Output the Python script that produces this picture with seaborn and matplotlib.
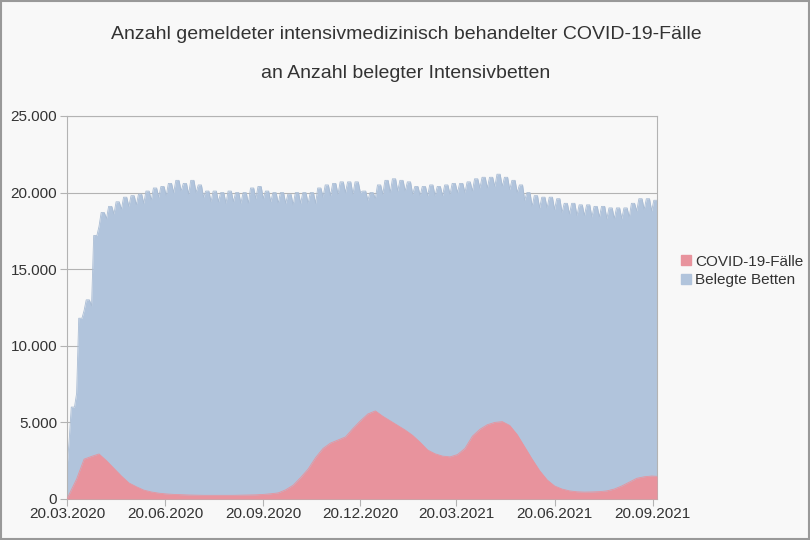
import numpy as np
import pandas as pd
import matplotlib
matplotlib.use("Agg")
import matplotlib.pyplot as plt
import matplotlib.dates as mdates
from matplotlib.ticker import FuncFormatter, MultipleLocator
from matplotlib.lines import Line2D
from matplotlib.patches import Rectangle
import seaborn as sns

# ---------------- data ----------------
start_date = "2020-03-20"
end_date = "2021-09-24"
first_sunday = "2020-03-22"
n_weeks = 79

beds_start = 2000
# weekday level (Tue-Fri) of each week
beds_weekday = [
    6000, 11800, 13000, 17200, 18700, 19100, 19400, 19700, 19800, 19900,
    20100, 20300, 20400, 20600, 20800, 20600, 20800, 20500, 20100, 20100,
    20000, 20100, 20000, 20000, 20300, 20400, 20100, 20000, 20000, 19900,
    20000, 20000, 20000, 20300, 20500, 20600, 20700, 20700, 20700, 20100,
    20000, 20500, 20800, 20900, 20800, 20700, 20400, 20400, 20500, 20400,
    20500, 20600, 20600, 20700, 20900, 21000, 21000, 21200, 21000, 20800,
    20500, 20000, 19800, 19700, 19700, 19600, 19300, 19300, 19200, 19200,
    19100, 19100, 19000, 19000, 19000, 19300, 19600, 19600, 19500,
]
# weekend (Sunday) level of each week
beds_weekend = [
    3800, 6900, 12300, 12600, 17800, 18300, 18600, 18900, 19100, 19200,
    19300, 19500, 19700, 19800, 20000, 20100, 19900, 20000, 19700, 19400,
    19400, 19300, 19400, 19300, 19300, 19600, 19600, 19400, 19300, 19300,
    19200, 19300, 19300, 19300, 19700, 19800, 19900, 20000, 19900, 20000,
    19500, 19600, 19900, 20000, 20100, 20100, 19900, 19800, 19800, 19800,
    19800, 19900, 20000, 20000, 20100, 20300, 20300, 20400, 20400, 20200,
    20000, 19500, 19100, 19000, 19000, 18900, 18700, 18600, 18500, 18500,
    18400, 18400, 18300, 18300, 18300, 18400, 18800, 18900, 18800,
]
covid_start = 0
covid_end = 1480
# COVID-19 ICU cases on each Sunday
covid_weekly = [
    300, 1300, 2600, 2780, 2940, 2500, 2000, 1500, 1050, 800,
    580, 460, 380, 330, 300, 280, 260, 250, 240, 240,
    240, 240, 240, 250, 260, 270, 300, 340, 400, 600,
    900, 1400, 1950, 2700, 3300, 3650, 3850, 4050, 4600, 5100,
    5550, 5750, 5400, 5100, 4800, 4500, 4150, 3700, 3200, 2950,
    2800, 2750, 2900, 3300, 4100, 4550, 4850, 5000, 5050, 4800,
    4200, 3400, 2600, 1850, 1250, 850, 650, 530, 470, 450,
    460, 480, 530, 650, 850, 1100, 1350, 1450, 1500,
]

tick_dates = ["2020-03-20", "2020-06-20", "2020-09-20", "2020-12-20",
              "2021-03-20", "2021-06-20", "2021-09-20"]
tick_labels = ["20.03.2020", "20.06.2020", "20.09.2020", "20.12.2020",
               "20.03.2021", "20.06.2021", "20.09.2021"]

title_text = ("Anzahl gemeldeter intensivmedizinisch behandelter COVID-19-Fälle\n\n"
              "an Anzahl belegter Intensivbetten")
series_names = ["COVID-19-Fälle", "Belegte Betten"]

# ---------------- build tables ----------------
sundays = pd.date_range(first_sunday, periods=n_weeks, freq="7D")
bed_dates = [pd.Timestamp(start_date)]
bed_vals = [beds_start]
for s, we, wd in zip(sundays, beds_weekend, beds_weekday):
    bed_dates += [s, s + pd.Timedelta(days=2), s + pd.Timedelta(days=5)]
    bed_vals += [we, wd, wd]
beds_df = pd.DataFrame({"date": bed_dates, "value": bed_vals})

covid_df = pd.DataFrame({
    "date": [pd.Timestamp(start_date)] + list(sundays) + [pd.Timestamp(end_date)],
    "value": [covid_start] + covid_weekly + [covid_end],
})

# ---------------- style ----------------
sns.set_theme(style="white")
plt.rcParams["font.family"] = ["Liberation Sans", "DejaVu Sans"]

bg = "#f8f8f8"
blue = "#b1c4dc"
blue_edge = "#a9bcd4"
pink = "#e8939d"
grid_c = "#b3b3b3"
text_c = "#333333"

fig = plt.figure(figsize=(8.1, 5.4), dpi=100, facecolor=bg)
ax = fig.add_axes([67 / 810, 1 - 499 / 540, 590 / 810, 383 / 540])
ax.set_facecolor(bg)

ax.fill_between(beds_df["date"], 0, beds_df["value"], color=blue, lw=0, zorder=2)
sns.lineplot(data=beds_df, x="date", y="value", ax=ax, color=blue_edge, lw=0.6, zorder=2)
ax.fill_between(covid_df["date"], 0, covid_df["value"], color=pink, lw=0, zorder=3)
sns.lineplot(data=covid_df, x="date", y="value", ax=ax, color=pink, lw=0.6, zorder=3)

ax.set_xlim(pd.Timestamp(start_date), pd.Timestamp(end_date))
ax.set_ylim(0, 25000)
ax.yaxis.set_major_locator(MultipleLocator(5000))
ax.yaxis.set_major_formatter(FuncFormatter(lambda v, p: f"{int(v):,}".replace(",", ".")))
ax.set_xticks([pd.Timestamp(d) for d in tick_dates])
ax.set_xticklabels(tick_labels)
ax.set_xlabel("")
ax.set_ylabel("")

ax.grid(axis="y", color=grid_c, lw=0.8, zorder=1)
ax.grid(axis="x", visible=False)
for sp in ax.spines.values():
    sp.set_color(grid_c)
    sp.set_linewidth(0.8)
ax.tick_params(axis="both", which="major", labelsize=11, colors=grid_c,
               labelcolor=text_c, length=5, width=0.8, direction="out",
               left=True, bottom=True, pad=2)
ax.tick_params(axis="x", pad=1)

fig.text(406 / 810, 1 - 54 / 540, title_text, ha="center", va="center",
         fontsize=14, color=text_c, linespacing=1.2)

handles = [Line2D([], [], marker="s", ls="", color=pink, markersize=7),
           Line2D([], [], marker="s", ls="", color=blue, markersize=7)]
fig.legend(handles, series_names, loc="center left",
           bbox_to_anchor=(672 / 810, 1 - 271 / 540), frameon=False,
           fontsize=11, handlelength=0.8, handletextpad=0.2,
           labelspacing=0.3, borderpad=0, labelcolor=text_c)

fig.patches.append(Rectangle((0.001, 0.001), 0.998, 0.998, transform=fig.transFigure,
                             fill=False, edgecolor="#999999", lw=1.5))

fig.savefig("out.png", dpi=100, facecolor=bg)
